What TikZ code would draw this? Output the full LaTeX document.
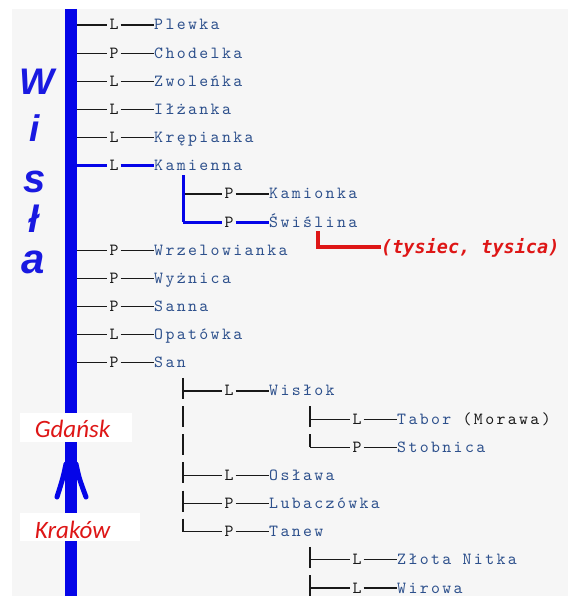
\documentclass[tikz,border=0pt]{standalone}
\usepackage{fontspec}
\newfontfamily\treefont{lmmono10-regular}[Extension=.otf, LetterSpace=14]
\newfontfamily\tagfont{lmmono10-regular}[Extension=.otf]
\newfontfamily\riverfont{Liberation Sans}
\newfontfamily\cityfont{Carlito}
\newfontfamily\notefont{DejaVu Sans Mono}

\definecolor{riverblue}{RGB}{5,5,232}
\definecolor{wisblue}{RGB}{25,25,225}
\definecolor{namecol}{RGB}{45,80,140}
\definecolor{ink}{RGB}{25,25,25}
\definecolor{notered}{RGB}{222,22,22}
\definecolor{panel}{RGB}{246,246,246}

% one branch of the tree: start point, side letter, tributary name
\newcommand\limb[6][thinl]{%
  \coordinate (s#2) at (#3,#4);
  \node[tag] (t#2) at (#5,#4+5) {#6};
  \node[rname] (n#2) at (#5+40,#4+5) {\csname rn#2\endcsname};
  \draw[#1] (s#2) -- (s#2 -| t#2.west) (s#2 -| t#2.east) -- (s#2 -| n#2.west);
}

\begin{document}
\begin{tikzpicture}[x=1pt,y=-1pt,
  tag/.style={anchor=base, inner xsep=2pt, inner ysep=0pt, text=ink,
    font={\tagfont\fontsize{17}{17}\selectfont}},
  rname/.style={anchor=base west, inner sep=0pt, text=namecol,
    font={\treefont\fontsize{17}{17}\selectfont}},
  thinl/.style={draw=ink, line width=1.2pt},
  hi/.style={draw=riverblue, line width=3pt},
  river/.style={draw=riverblue, line width=12pt},
  barb/.style={draw=riverblue, line width=5pt, line cap=round},
  wis/.style={anchor=base, inner sep=0pt, text=wisblue},
  city/.style={anchor=base, inner sep=0pt, text=notered,
    font={\cityfont\itshape\fontsize{25}{25}\selectfont}},
  redl/.style={draw=notered, line width=4pt},
  note/.style={anchor=base west, inner sep=0pt, text=notered,
    font={\notefont\bfseries\itshape\fontsize{18.5}{18.5}\selectfont}}]

\useasboundingbox (0,0) rectangle (568,596);
\fill[white] (0,0) rectangle (568,596);
\fill[panel] (12,9) rectangle (568,596);

% the main river
\coordinate (rtop) at (71,9);
\coordinate (rbot) at (71,596);
\draw[river] (rtop) -- (rbot);

% river name, letter by letter
\node[wis, font={\riverfont\bfseries\itshape\fontsize{37}{37}\selectfont}] (w1) at (37,95) {W};
\node[wis, font={\riverfont\bfseries\itshape\fontsize{37}{37}\selectfont}] (w2) at (35,142) {i};
\node[wis, font={\riverfont\bfseries\itshape\fontsize{40}{40}\selectfont}] (w3) at (35,192) {s};
\node[wis, font={\riverfont\bfseries\itshape\fontsize{38}{38}\selectfont}] (w4) at (34,232) {ł};
\node[wis, font={\riverfont\bfseries\itshape\fontsize{42}{42}\selectfont}] (w5) at (33,273) {a};

% flow direction: Krakow -> Gdansk
\fill[white] (20,413) rectangle (132,442);
\node[city] (gd) at (72.5,437) {Gdańsk};
\fill[white] (20,513) rectangle (140,541);
\node[city] (kr) at (72.5,538) {Kraków};
\coordinate (bl0) at (66,464);
\coordinate (bl1) at (57,497);
\coordinate (br0) at (76,464);
\coordinate (br1) at (86,497);
\draw[barb] (bl0) .. controls (63,478) .. (bl1);
\draw[barb] (br0) .. controls (79,478) .. (br1);

% tributary names
\expandafter\def\csname rn0\endcsname{Plewka}
\expandafter\def\csname rn1\endcsname{Chodelka}
\expandafter\def\csname rn2\endcsname{Zwoleńka}
\expandafter\def\csname rn3\endcsname{Iłżanka}
\expandafter\def\csname rn4\endcsname{Krępianka}
\expandafter\def\csname rn5\endcsname{Kamienna}
\expandafter\def\csname rn6\endcsname{Kamionka}
\expandafter\def\csname rn7\endcsname{Świślina}
\expandafter\def\csname rn8\endcsname{Wrzelowianka}
\expandafter\def\csname rn9\endcsname{Wyżnica}
\expandafter\def\csname rn10\endcsname{Sanna}
\expandafter\def\csname rn11\endcsname{Opatówka}
\expandafter\def\csname rn12\endcsname{San}
\expandafter\def\csname rn13\endcsname{Wisłok}
\expandafter\def\csname rn14\endcsname{Tabor \textcolor{ink}{(Morawa)}}
\expandafter\def\csname rn15\endcsname{Stobnica}
\expandafter\def\csname rn16\endcsname{Osława}
\expandafter\def\csname rn17\endcsname{Lubaczówka}
\expandafter\def\csname rn18\endcsname{Tanew}
\expandafter\def\csname rn19\endcsname{Złota Nitka}
\expandafter\def\csname rn20\endcsname{Wirowa}

% first level: straight off the river
\limb{0}{77}{25}{114}{L}
\limb{1}{77}{53.15}{114}{P}
\limb{2}{77}{81.3}{114}{L}
\limb{3}{77}{109.45}{114}{L}
\limb{4}{77}{137.6}{114}{L}
\limb[hi]{5}{77}{165.75}{114}{L}
\limb{8}{77}{250.2}{114}{P}
\limb{9}{77}{278.35}{114}{P}
\limb{10}{77}{306.5}{114}{P}
\limb{11}{77}{334.65}{114}{L}
\limb{12}{77}{362.8}{114}{P}

% Kamienna's tributaries
\limb{6}{183}{193.9}{229}{P}
\limb[hi]{7}{183}{222.05}{229}{P}
\coordinate (k0) at (183,175);
\draw[hi, line join=round] (k0) -- (s7);

% San's tributaries
\limb{13}{183}{390.95}{229}{L}
\limb{16}{183}{475.4}{229}{L}
\limb{17}{183}{503.55}{229}{P}
\limb{18}{183}{531.7}{229}{P}
\coordinate (v14) at (183,419.1);
\coordinate (v15) at (183,447.25);
\draw[thinl] ([yshift=13pt]s13) -- ([yshift=-8pt]s13);
\draw[thinl] ([yshift=13pt]v14) -- ([yshift=-8pt]v14);
\draw[thinl] ([yshift=13pt]v15) -- ([yshift=-8pt]v15);
\draw[thinl] ([yshift=13pt]s16) -- ([yshift=-8pt]s16);
\draw[thinl] ([yshift=13pt]s17) -- ([yshift=-8pt]s17);
\draw[thinl] ([yshift=13pt]s18) -- (s18);

% Wislok's tributaries
\limb{14}{310}{419.1}{357}{L}
\limb{15}{310}{447.25}{357}{P}
\draw[thinl] ([yshift=13pt]s14) -- ([yshift=-8pt]s14);
\draw[thinl] ([yshift=13pt]s15) -- (s15);

% Tanew's tributaries
\limb{19}{310}{559.85}{357}{L}
\limb{20}{310}{588}{357}{L}
\draw[thinl] ([yshift=13pt]s19) -- ([yshift=-8pt]s19);
\draw[thinl] ([yshift=13pt]s20) -- ([yshift=-8pt]s20);

% note on Swislina
\node[note] (tys) at (381,253) {(tysiec, tysica)};
\coordinate (w0) at (318,231);
\draw[redl] (w0) |- (tys.west);

\end{tikzpicture}
\end{document}
